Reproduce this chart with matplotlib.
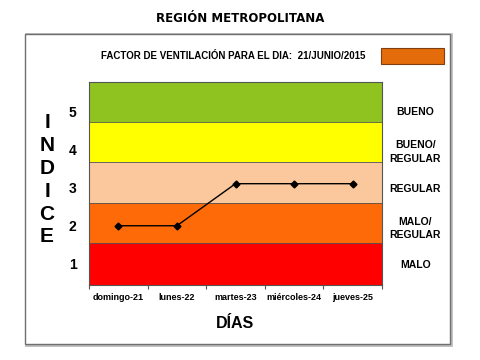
import matplotlib
matplotlib.use("Agg")
import matplotlib.pyplot as plt
from matplotlib.patches import Rectangle

days = ["domingo-21", "lunes-22", "martes-23", "miércoles-24", "jueves-25"]
indice = [2.0, 2.0, 3.1, 3.1, 3.1]
levels = [1, 2, 3, 4, 5]
level_names = ["MALO", "MALO/\nREGULAR", "REGULAR", "BUENO/\nREGULAR", "BUENO"]
band_edges = [0.45, 1.55, 2.6, 3.66, 4.71, 5.76]
band_colors = ["#FF0000", "#FF6A08", "#FBC79C", "#FFFF00", "#8FC31F"]
title = "REGIÓN METROPOLITANA"
subtitle = "FACTOR DE VENTILACIÓN PARA EL DIA:  21/JUNIO/2015"
today_color = "#E46C0A"

W, H = 480, 360
fig = plt.figure(figsize=(W / 100, H / 100), dpi=100)
fig.patch.set_facecolor("white")

def fx(px):
    return px / W

def fy(py):
    return 1 - py / H

# outer frame
fig.patches.append(Rectangle((fx(26), fy(345)), fx(451) - fx(26), fy(34) - fy(345),
                             transform=fig.transFigure, fill=False,
                             edgecolor="#BBBBBB", lw=2.0, zorder=-3))
fig.patches.append(Rectangle((fx(25), fy(344)), fx(450) - fx(25), fy(34) - fy(344),
                             transform=fig.transFigure, facecolor="white",
                             edgecolor="#707070", lw=1.0, zorder=-2))
# legend box
fig.patches.append(Rectangle((fx(381), fy(64)), fx(444) - fx(381), fy(48) - fy(64),
                             transform=fig.transFigure, facecolor=today_color,
                             edgecolor="#7F3F10", lw=0.8, zorder=1))

ax = fig.add_axes([fx(89), fy(285), fx(382) - fx(89), fy(82) - fy(285)])
ax.patch.set_alpha(0)
x = list(range(len(days)))
for i in range(len(band_colors)):
    ax.axhspan(band_edges[i], band_edges[i + 1], color=band_colors[i], zorder=0, lw=0)
    if i > 0:
        ax.axhline(band_edges[i], color="#555555", lw=0.6, zorder=1)

ax.plot(x, indice, color="black", lw=1.0, marker="D", ms=3.5, zorder=3)
ax.set_xlim(-0.5, len(days) - 0.5)
ax.set_ylim(band_edges[0], band_edges[-1])

ax.set_yticks(levels)
ax.set_yticklabels([str(v) for v in levels], fontsize=10, fontweight="bold",
                   family="Liberation Sans")
ax.tick_params(axis="y", length=0, pad=9)
ax.set_xticks([i - 0.5 for i in range(len(days) + 1)], minor=False)
ax.set_xticklabels([""] * (len(days) + 1))
ax.set_xticks(x, minor=True)
ax.set_xticklabels(days, minor=True, fontsize=6.5, fontweight="bold",
                   family="Liberation Sans")
ax.tick_params(axis="x", which="major", length=3, color="#555555")
ax.tick_params(axis="x", which="minor", length=0, pad=6)
for s in ax.spines.values():
    s.set_color("#555555")
    s.set_linewidth(0.8)

# right labels
ax2 = ax.twinx()
ax2.patch.set_alpha(0)
ax2.set_ylim(ax.get_ylim())
ax2.set_yticks(levels)
ax2.set_yticklabels(level_names, fontsize=7.5, fontweight="bold", family="Liberation Sans",
                    ha="center", linespacing=1.45)
ax2.tick_params(axis="y", length=0, pad=24)
for s in ax2.spines.values():
    s.set_visible(False)

fig.text(0.5, fy(18), title, ha="center", va="center", fontsize=8.5,
         fontweight="bold", family="DejaVu Sans")
fig.text(fx(233), fy(56), subtitle, ha="center", va="center", fontsize=7,
         fontweight="bold", family="Liberation Sans")
fig.text(fx(235), fy(323), "DÍAS", ha="center", va="center", fontsize=11.5,
         fontweight="bold", family="Liberation Sans")
for k, ch in enumerate("INDICE"):
    fig.text(fx(47), fy(123 + k * 22.8), ch, ha="center", va="center", fontsize=15,
             fontweight="bold", family="Liberation Sans")

fig.savefig("out.png", dpi=100)
